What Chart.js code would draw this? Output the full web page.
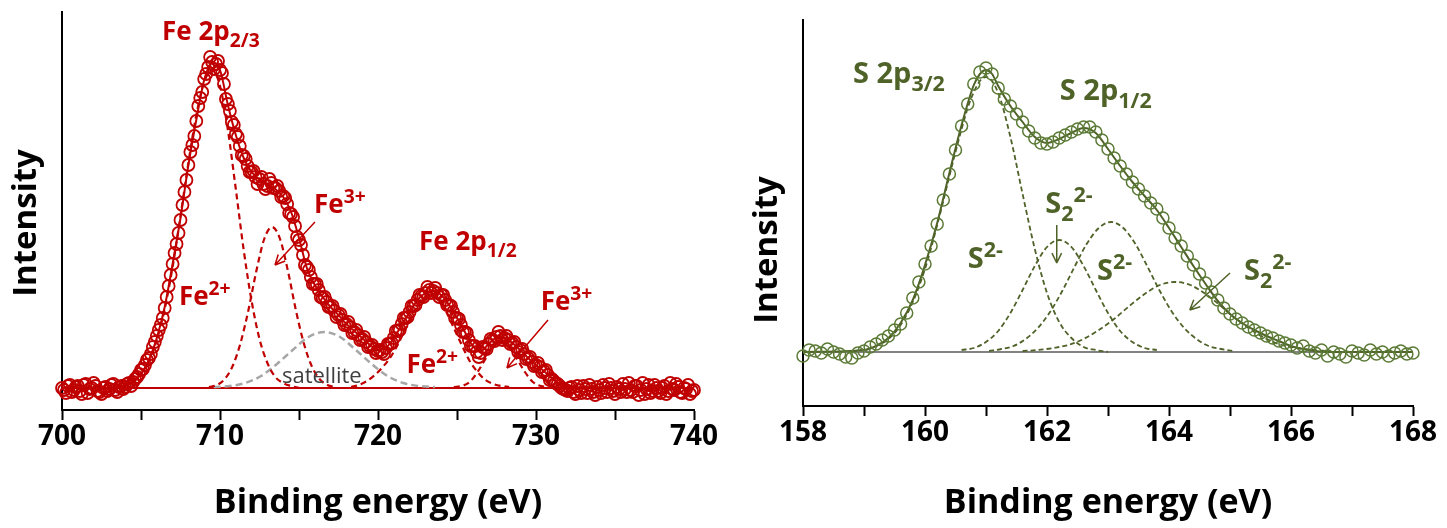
<!DOCTYPE html>
<html>
<head>
<meta charset="utf-8">
<script src="https://cdn.jsdelivr.net/npm/chart.js@4.4.1/dist/chart.umd.min.js"></script>
<style>
  body { margin: 0; background: #fff; }
  #wrap { position: relative; width: 1447px; height: 528px; }
  canvas { position: absolute; top: 0; }
</style>
</head>
<body>
<div id="wrap">
  <canvas id="feChart" width="720" height="528" style="left:0;width:720px;height:528px"></canvas>
  <canvas id="sChart" width="727" height="528" style="left:720px;width:727px;height:528px"></canvas>
</div>
<script>
// ---- Fe 2p panel (two interleaved scans) ----
const feEnergy = [
  700, 700.25, 700.5, 700.75, 701, 701.25, 701.5, 701.75, 702, 702.25, 702.5, 702.75,
  703, 703.25, 703.5, 703.75, 704, 704.25, 704.5, 704.75, 705, 705.25, 705.5, 705.75,
  706, 706.25, 706.5, 706.75, 707, 707.25, 707.5, 707.75, 708, 708.25, 708.5, 708.75,
  709, 709.25, 709.5, 709.75, 710, 710.25, 710.5, 710.75, 711, 711.25, 711.5, 711.75,
  712, 712.25, 712.5, 712.75, 713, 713.25, 713.5, 713.75, 714, 714.25, 714.5, 714.75,
  715, 715.25, 715.5, 715.75, 716, 716.25, 716.5, 716.75, 717, 717.25, 717.5, 717.75,
  718, 718.25, 718.5, 718.75, 719, 719.25, 719.5, 719.75, 720, 720.25, 720.5, 720.75,
  721, 721.25, 721.5, 721.75, 722, 722.25, 722.5, 722.75, 723, 723.25, 723.5, 723.75,
  724, 724.25, 724.5, 724.75, 725, 725.25, 725.5, 725.75, 726, 726.25, 726.5, 726.75,
  727, 727.25, 727.5, 727.75, 728, 728.25, 728.5, 728.75, 729, 729.25, 729.5, 729.75,
  730, 730.25, 730.5, 730.75, 731, 731.25, 731.5, 731.75, 732, 732.25, 732.5, 732.75,
  733, 733.25, 733.5, 733.75, 734, 734.25, 734.5, 734.75, 735, 735.25, 735.5, 735.75,
  736, 736.25, 736.5, 736.75, 737, 737.25, 737.5, 737.75, 738, 738.25, 738.5, 738.75,
  739, 739.25, 739.5, 739.75, 740
];
const feCounts = [
  22, 17, 25, 20, 24, 16, 26, 21, 27, 19, 16, 23,
  21, 26, 18, 24, 23, 27, 28, 33, 40, 45, 52, 63,
  74, 85, 102, 124, 146, 166, 190, 218, 245, 265, 289, 312,
  331, 343, 348, 346, 340, 326, 306, 288, 276, 264, 254, 244,
  238, 233, 231, 226, 224, 227, 222, 219, 214, 206, 196, 184,
  170, 155, 143, 133, 126, 120, 112, 108, 103, 99, 95, 90,
  86, 83, 78, 75, 71, 68, 64, 61, 59, 58, 62, 66,
  72, 79, 86, 92, 98, 104, 110, 114, 117, 120, 119, 117,
  115, 110, 105, 98, 92, 85, 78, 70, 64, 58, 57, 62,
  66, 70, 73, 74, 72, 70, 67, 63, 60, 56, 52, 48,
  45, 43, 39, 35, 31, 27, 24, 21, 19, 23, 16, 20,
  24, 17, 21, 15, 20, 25, 18, 22, 16, 21, 26, 18,
  20, 24, 15, 27, 21, 17, 25, 19, 22, 16, 27, 20,
  23, 17, 21, 16, 20
];
const feEnergyB = [
  700.125, 700.375, 700.625, 700.875, 701.125, 701.375, 701.625, 701.875, 702.125, 702.375, 702.625, 702.875,
  703.125, 703.375, 703.625, 703.875, 704.125, 704.375, 704.625, 704.875, 705.125, 705.375, 705.625, 705.875,
  706.125, 706.375, 706.625, 706.875, 707.125, 707.375, 707.625, 707.875, 708.125, 708.375, 708.625, 708.875,
  709.125, 709.375, 709.625, 709.875, 710.125, 710.375, 710.625, 710.875, 711.125, 711.375, 711.625, 711.875,
  712.125, 712.375, 712.625, 712.875, 713.125, 713.375, 713.625, 713.875, 714.125, 714.375, 714.625, 714.875,
  715.125, 715.375, 715.625, 715.875, 716.125, 716.375, 716.625, 716.875, 717.125, 717.375, 717.625, 717.875,
  718.125, 718.375, 718.625, 718.875, 719.125, 719.375, 719.625, 719.875, 720.125, 720.375, 720.625, 720.875,
  721.125, 721.375, 721.625, 721.875, 722.125, 722.375, 722.625, 722.875, 723.125, 723.375, 723.625, 723.875,
  724.125, 724.375, 724.625, 724.875, 725.125, 725.375, 725.625, 725.875, 726.125, 726.375, 726.625, 726.875,
  727.125, 727.375, 727.625, 727.875, 728.125, 728.375, 728.625, 728.875, 729.125, 729.375, 729.625, 729.875,
  730.125, 730.375, 730.625, 730.875, 731.125, 731.375, 731.625, 731.875, 732.125, 732.375, 732.625, 732.875,
  733.125, 733.375, 733.625, 733.875, 734.125, 734.375, 734.625, 734.875, 735.125, 735.375, 735.625, 735.875,
  736.125, 736.375, 736.625, 736.875, 737.125, 737.375, 737.625, 737.875, 738.125, 738.375, 738.625, 738.875,
  739.125, 739.375, 739.625, 739.875
];
const feCountsB = [
  20, 24, 18, 23, 19, 25, 17, 22, 24, 18, 22, 19,
  25, 20, 23, 21, 26, 24, 31, 36, 41, 50, 56, 68,
  80, 92, 113, 135, 157, 177, 205, 230, 258, 274, 304, 318,
  336, 353, 341, 349, 337, 311, 299, 285, 273, 255, 251, 238,
  239, 226, 233, 221, 231, 222, 224, 213, 212, 197, 193, 173,
  165, 145, 140, 126, 126, 113, 113, 103, 104, 93, 96, 85,
  88, 77, 80, 70, 73, 63, 65, 57, 60, 56, 66, 67,
  79, 80, 92, 93, 104, 105, 115, 113, 123, 117, 122, 113,
  115, 105, 104, 92, 91, 78, 77, 64, 64, 53, 63, 61,
  71, 69, 78, 70, 74, 66, 68, 58, 61, 51, 53, 44,
  47, 38, 40, 30, 29, 26, 22, 20, 22, 18, 24, 17,
  21, 25, 18, 23, 17, 22, 26, 19, 23, 18, 21, 27,
  18, 24, 20, 16, 25, 19, 22, 17, 24, 19, 21, 26,
  18, 22, 25, 19
];
const feFitE = [700, 703, 703.5, 704, 704.5, 705, 705.5, 706, 706.5, 707, 707.5, 708, 708.5, 709, 709.5,
  710, 710.5, 711, 711.5, 712, 712.5, 713, 713.5, 714, 714.5, 715, 715.5, 716, 716.5, 717, 717.5,
  718, 718.5, 719, 719.5, 720, 720.5, 721, 721.5, 722, 722.5, 723, 723.5, 724, 724.5, 725, 725.5,
  726, 726.5, 727, 727.5, 728, 728.5, 729, 729.5, 730, 730.5, 731, 731.5, 732, 733, 740];
const feFitI = [22, 22, 23, 24, 28, 36, 50, 72, 103, 146, 192, 245, 290, 330, 347,
  340, 305, 275, 252, 238, 230, 225, 221, 213, 198, 172, 142, 125, 113, 103, 95,
  86, 79, 72, 65, 60, 62, 72, 85, 98, 110, 117, 119, 115, 105, 92, 78,
  64, 59, 66, 72, 72, 67, 60, 52, 45, 39, 32, 26, 23, 22, 22];
const feFe2E = [703.5, 704, 704.5, 705, 705.5, 706, 706.5, 707, 707.5, 708, 708.5, 709, 709.5, 710, 710.5, 711, 711.5, 712, 712.5, 713, 713.5, 714, 714.5, 715];
const feFe2I = [23, 25, 29, 36, 49, 70, 101, 143, 194, 247, 295, 328, 340, 324, 280, 221, 160, 109, 71, 47, 33, 27, 24, 22];
const feFe3E = [709.3, 709.8, 710.3, 710.8, 711.3, 711.8, 712.3, 712.8, 713.3, 713.8, 714.3, 714.8, 715.3, 715.8, 716.3, 716.8, 717.3];
const feFe3I = [23, 25, 31, 44, 67, 100, 139, 171, 183, 171, 139, 100, 67, 44, 31, 25, 23];
const feSatE = [709.6, 710.6, 711.6, 712.6, 713.6, 714.6, 715.6, 716.6, 717.6, 718.6, 719.6, 720.6, 721.6, 722.6, 723.6];
const feSatI = [23, 24, 27, 34, 46, 60, 73, 78, 73, 60, 46, 34, 27, 24, 23];
const feFe2bE = [718.3, 718.8, 719.3, 719.8, 720.3, 720.8, 721.3, 721.8, 722.3, 722.8, 723.3, 723.8, 724.3, 724.8, 725.3, 725.8, 726.3, 726.8, 727.3, 727.8, 728.3];
const feFe2bI = [23, 25, 29, 35, 43, 53, 67, 83, 99, 111, 115, 111, 99, 82, 65, 49, 38, 30, 26, 24, 23];
const feFe3bE = [724.8, 725.3, 725.8, 726.3, 726.8, 727.3, 727.8, 728.3, 728.8, 729.3, 729.8, 730.3, 730.8];
const feFe3bI = [23, 24, 28, 38, 51, 64, 70, 64, 51, 38, 28, 24, 23];
const feBaseE = [700, 740];
const feBaseI = [22, 22];

// ---- S 2p panel ----
const sEnergy = [
  158.0, 158.1, 158.2, 158.3, 158.4, 158.5, 158.6, 158.7, 158.8, 158.9,
  159.0, 159.1, 159.2, 159.3, 159.4, 159.5, 159.6, 159.7, 159.8, 159.9,
  160.0, 160.1, 160.2, 160.3, 160.4, 160.5, 160.6, 160.7, 160.8, 160.9,
  161.0, 161.1, 161.2, 161.3, 161.4, 161.5, 161.6, 161.7, 161.8, 161.9,
  162.0, 162.1, 162.2, 162.3, 162.4, 162.5, 162.6, 162.7, 162.8, 162.9,
  163.0, 163.1, 163.2, 163.3, 163.4, 163.5, 163.6, 163.7, 163.8, 163.9,
  164.0, 164.1, 164.2, 164.3, 164.4, 164.5, 164.6, 164.7, 164.8, 164.9,
  165.0, 165.1, 165.2, 165.3, 165.4, 165.5, 165.6, 165.7, 165.8, 165.9,
  166.0, 166.1, 166.2, 166.3, 166.4, 166.5, 166.6, 166.7, 166.8, 166.9,
  167.0, 167.1, 167.2, 167.3, 167.4, 167.5, 167.6, 167.7, 167.8, 167.9,
  168.0
];
const sCounts = [
  50, 56, 55, 53, 57, 54, 52, 49, 48, 53,
  55, 59, 62, 66, 70, 76, 82, 93, 108, 124,
  142, 160, 182, 206, 232, 256, 280, 302, 322, 334,
  338, 332, 318, 307, 300, 292, 284, 275, 268, 263,
  262, 264, 268, 271, 274, 277, 279, 279, 274, 266,
  257, 248, 240, 232, 224, 217, 210, 203, 197, 188,
  178, 168, 160, 150, 141, 132, 123, 114, 106, 98,
  92, 87, 83, 79, 76, 73, 70, 68, 65, 63,
  61, 58, 60, 55, 53, 56, 50, 54, 52, 49,
  55, 53, 51, 56, 52, 54, 50, 53, 55, 52,
  53
];
const sFitE = [158, 159.0, 159.2, 159.4, 159.6, 159.8, 160.0, 160.2, 160.4, 160.6, 160.8, 160.9,
  161.0, 161.1, 161.2, 161.4, 161.6, 161.8, 162.0, 162.2, 162.4, 162.6, 162.8,
  163.0, 163.2, 163.4, 163.6, 163.8, 164.0, 164.2, 164.4, 164.6, 164.8,
  165.0, 165.2, 165.4, 165.6, 165.8, 166.0, 166.2, 166.4, 166.6, 168];
const sFitI = [54, 56, 60, 68, 83, 106, 141, 183, 233, 281, 321, 332,
  336, 332, 320, 300, 284, 269, 263, 267, 273, 278, 273,
  257, 240, 224, 210, 196, 178, 159, 140, 122, 105,
  92, 83, 76, 70, 65, 60, 57, 55, 54, 54];
const sS1E = [158.8, 159.0, 159.2, 159.4, 159.6, 159.8, 160.0, 160.1, 160.2, 160.3, 160.4, 160.5, 160.6, 160.7, 160.8, 160.9, 161.0, 161.2, 161.4, 161.6, 161.8, 162.0, 162.2, 162.4, 162.6, 162.8, 163.0];
const sS1I = [55, 56, 60, 67, 81, 104, 137, 158, 181, 205, 230, 254, 277, 298, 314, 325, 329, 313, 269, 212, 157, 113, 84, 68, 59, 56, 54];
const sS2E = [160.6, 160.8, 161.0, 161.2, 161.4, 161.6, 161.8, 162.0, 162.2, 162.4, 162.6, 162.8, 163.0, 163.2, 163.4, 163.6, 163.8];
const sS2I = [56, 58, 64, 75, 93, 116, 140, 159, 166, 159, 140, 116, 93, 75, 64, 58, 56];
const sS3E = [161.05, 161.25, 161.45, 161.65, 161.85, 162.05, 162.25, 162.45, 162.65, 162.85, 163.05, 163.25, 163.45, 163.65, 163.85, 164.05, 164.25, 164.45, 164.65, 164.85, 165.05];
const sS3I = [55, 57, 60, 67, 78, 94, 115, 139, 162, 178, 184, 178, 162, 139, 115, 94, 78, 67, 60, 57, 55];
const sS4E = [161.6, 161.85, 162.1, 162.35, 162.6, 162.85, 163.1, 163.35, 163.6, 163.85, 164.1, 164.35, 164.6, 164.85, 165.1, 165.35, 165.6, 165.85, 166.1, 166.35, 166.6];
const sS4I = [55, 56, 58, 61, 67, 76, 87, 100, 112, 121, 124, 121, 112, 100, 87, 76, 67, 61, 58, 56, 55];
const sBaseE = [158, 168];
const sBaseI = [54, 54];

const RED = '#c00000';
const GREEN = '#4f6228';
const GREEN_PT = '#5b7a36';

Chart.defaults.font.family = '"Open Sans", sans-serif';

const pts = (xs, ys) => xs.map((x, i) => ({ x, y: ys[i] }));

function curve(xs, ys, color, width, dash, order) {
  return {
    data: pts(xs, ys), showLine: true, pointRadius: 0, borderColor: color, borderWidth: width,
    borderDash: dash, cubicInterpolationMode: 'monotone', fill: false, order
  };
}

function dots(xs, ys, color, r, bw) {
  return {
    data: pts(xs, ys), showLine: false, pointRadius: r, pointBorderWidth: bw,
    pointBorderColor: color, pointBackgroundColor: 'rgba(0,0,0,0)', clip: false, order: 0
  };
}

function axes(min, max, step, labelEvery, ymax, xHeight) {
  return {
    x: {
      type: 'linear', min, max,
      ticks: {
        stepSize: step, autoSkip: false, maxRotation: 0, padding: 0, color: '#000',
        font: { size: 28, weight: 'bold' },
        callback: v => (Math.round(v) % labelEvery === 0 ? v : '')
      },
      grid: { drawOnChartArea: false, drawTicks: true, tickLength: 10, tickWidth: 2, tickColor: '#000' },
      border: { color: '#000', width: 2 },
      title: {
        display: true, text: 'Binding energy (eV)', color: '#000',
        font: { size: 34, weight: 'bold' }, padding: { top: 0, bottom: 4 }
      },
      afterFit: a => { a.height = xHeight; a.paddingLeft = 0; a.paddingRight = 0; }
    },
    y: {
      min: 0, max: ymax,
      ticks: { display: false },
      grid: { drawOnChartArea: false, drawTicks: false },
      border: { color: '#000', width: 2 },
      afterFit: a => { a.width = 0; }
    }
  };
}

// labels, arrows and the rotated y title drawn on top of the datasets
function makeNotes(cfg) {
  return {
    id: 'notes',
    afterDatasetsDraw(chart) {
      const { ctx, chartArea: a, scales: { x, y } } = chart;
      ctx.save();
      ctx.textAlign = 'left';
      ctx.textBaseline = 'alphabetic';
      cfg.labels.forEach(l => {
        let cx = x.getPixelForValue(l.e);
        const cy = y.getPixelForValue(l.i);
        const size = l.size || cfg.size;
        ctx.fillStyle = l.color || cfg.color;
        l.parts.forEach(([txt, kind]) => {
          const s = kind === 'n' ? size : size * 0.74;
          const dy = kind === 'sub' ? size * 0.26 : kind === 'sup' ? -size * 0.38 : 0;
          ctx.font = `${l.weight || 'bold'} ${s}px "Open Sans"`;
          ctx.fillText(txt, cx, cy + dy);
          cx += ctx.measureText(txt).width;
        });
      });
      ctx.strokeStyle = cfg.color;
      ctx.lineWidth = 1.5;
      cfg.arrows.forEach(([e0, i0, e1, i1]) => {
        const x0 = x.getPixelForValue(e0), y0 = y.getPixelForValue(i0);
        const x1 = x.getPixelForValue(e1), y1 = y.getPixelForValue(i1);
        const ang = Math.atan2(y1 - y0, x1 - x0);
        ctx.beginPath();
        ctx.moveTo(x0, y0);
        ctx.lineTo(x1, y1);
        [-0.45, 0.45].forEach(d => {
          ctx.moveTo(x1, y1);
          ctx.lineTo(x1 - 11 * Math.cos(ang + d), y1 - 11 * Math.sin(ang + d));
        });
        ctx.stroke();
      });
      ctx.translate(a.left - 35, (a.top + a.bottom) / 2 + cfg.titleShift);
      ctx.rotate(-Math.PI / 2);
      ctx.fillStyle = '#000';
      ctx.font = 'bold 33px "Open Sans"';
      ctx.textAlign = 'center';
      ctx.textBaseline = 'middle';
      ctx.fillText('Intensity', 0, 0);
      ctx.restore();
    }
  };
}

new Chart(document.getElementById('feChart'), {
  type: 'scatter',
  data: {
    datasets: [
      dots(feEnergy, feCounts, RED, 6, 1.8),
      dots(feEnergyB, feCountsB, RED, 6, 1.8),
      curve(feFitE, feFitI, RED, 2, [], 1),
      curve(feFe2E, feFe2I, RED, 2.2, [6, 4], 2),
      curve(feFe3E, feFe3I, RED, 2.2, [6, 4], 2),
      curve(feFe2bE, feFe2bI, RED, 2.2, [6, 4], 2),
      curve(feFe3bE, feFe3bI, RED, 2.2, [6, 4], 2),
      curve(feSatE, feSatI, '#a6a6a6', 2.5, [7, 4], 3),
      curve(feBaseE, feBaseI, RED, 2, [], 4)
    ]
  },
  options: {
    responsive: false, animation: false,
    layout: { padding: { left: 62, right: 26, top: 12, bottom: 0 } },
    plugins: { legend: { display: false }, tooltip: { enabled: false } },
    scales: axes(700, 740, 5, 10, 398, 118)
  },
  plugins: [makeNotes({
    color: RED, size: 26, titleShift: 12,
    labels: [
      { e: 706.33, i: 370, parts: [['Fe 2p', 'n'], ['2/3', 'sub']] },
      { e: 715.95, i: 197, parts: [['Fe', 'n'], ['3+', 'sup']] },
      { e: 707.4, i: 105, parts: [['Fe', 'n'], ['2+', 'sup']] },
      { e: 722.6, i: 160, parts: [['Fe 2p', 'n'], ['1/2', 'sub']] },
      { e: 721.8, i: 37, parts: [['Fe', 'n'], ['2+', 'sup']] },
      { e: 730.3, i: 100, parts: [['Fe', 'n'], ['3+', 'sup']] },
      { e: 713.92, i: 27, parts: [['satellite', 'n']], color: '#404040', weight: 'normal', size: 22 }
    ],
    arrows: [[716.01, 188, 713.48, 145], [730.76, 90, 728.16, 42]]
  })]
});

new Chart(document.getElementById('sChart'), {
  type: 'scatter',
  data: {
    datasets: [
      dots(sEnergy, sCounts, GREEN_PT, 6, 1.5),
      curve(sFitE, sFitI, GREEN, 2, [], 1),
      curve(sS1E, sS1I, GREEN, 1.8, [5, 3], 2),
      curve(sS2E, sS2I, GREEN, 1.8, [5, 3], 2),
      curve(sS3E, sS3I, GREEN, 1.8, [5, 3], 2),
      curve(sS4E, sS4I, GREEN, 1.8, [5, 3], 2),
      curve(sBaseE, sBaseI, '#595959', 1.5, [], 4)
    ]
  },
  options: {
    responsive: false, animation: false,
    layout: { padding: { left: 83, right: 34, top: 20, bottom: 0 } },
    plugins: { legend: { display: false }, tooltip: { enabled: false } },
    scales: axes(158, 168, 1, 2, 386, 122)
  },
  plugins: [makeNotes({
    color: GREEN, size: 29, titleShift: 37,
    labels: [
      { e: 158.82, i: 323, parts: [['S 2p', 'n'], ['3/2', 'sub']] },
      { e: 162.21, i: 306, parts: [['S 2p', 'n'], ['1/2', 'sub']] },
      { e: 161.97, i: 193, parts: [['S', 'n'], ['2', 'sub'], ['2-', 'sup']] },
      { e: 160.70, i: 138, parts: [['S', 'n'], ['2-', 'sup']] },
      { e: 162.82, i: 126, parts: [['S', 'n'], ['2-', 'sup']] },
      { e: 165.23, i: 126, parts: [['S', 'n'], ['2', 'sub'], ['2-', 'sup']] }
    ],
    arrows: [[162.16, 181, 162.16, 143], [165.0, 133, 164.34, 96]]
  })]
});
</script>
</body>
</html>
